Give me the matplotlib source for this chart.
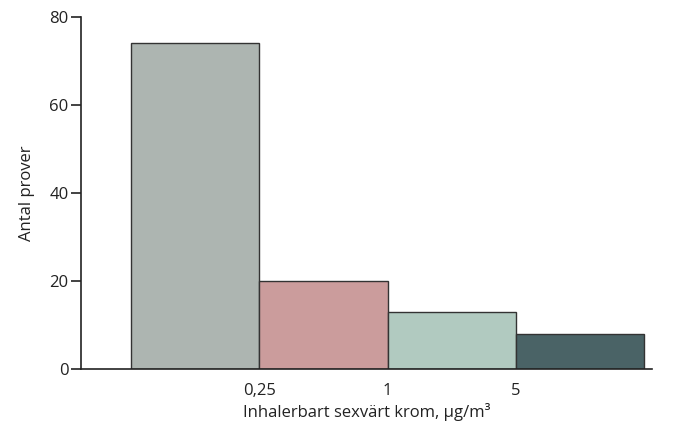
import matplotlib
matplotlib.use("Agg")
import matplotlib.pyplot as plt

# Number of samples per concentration class of inhalable hexavalent chromium
counts = [74, 20, 13, 8]
bar_colors = ["#adb5b1", "#cb9c9c", "#b1cac0", "#4a6366"]
boundary_labels = ["0,25", "1", "5"]

plt.rcParams["font.family"] = ["Open Sans", "DejaVu Sans"]

fig = plt.figure(figsize=(6.87, 4.23), dpi=100)
ax = fig.add_axes([0.118, 0.128, 0.831, 0.832])

positions = list(range(len(counts)))
ax.bar(positions, counts, width=1.0, align="edge", color=bar_colors,
       edgecolor="#333333", linewidth=1.0, zorder=2)

ax.set_xlim(-0.39, 4.06)
ax.set_ylim(0, 80)
ax.set_yticks([0, 20, 40, 60, 80])
ax.set_xticks([1, 2, 3])
ax.set_xticklabels(boundary_labels)

ax.spines["top"].set_visible(False)
ax.spines["right"].set_visible(False)
for side in ("left", "bottom"):
    ax.spines[side].set_color("#222222")
    ax.spines[side].set_linewidth(1.2)

ax.tick_params(axis="y", direction="out", length=7, width=1.2, colors="#222222",
               labelsize=12, pad=2)
ax.tick_params(axis="x", length=0, labelsize=12, pad=10, colors="#222222")

ax.set_ylabel("Antal prover", fontsize=12, color="#222222", labelpad=10)
ax.set_xlabel("Inhalerbart sexvärt krom, µg/m³", fontsize=12, color="#222222",
              labelpad=3)

fig.savefig("out.png", dpi=100)
